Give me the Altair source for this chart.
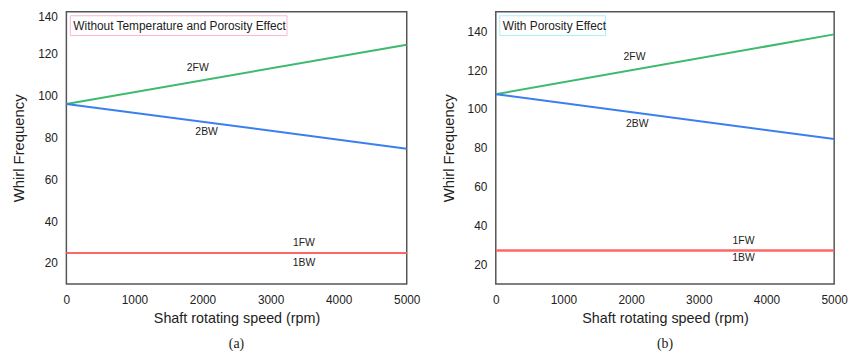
import altair as alt
import pandas as pd

speed = [0, 5000]

# Panel (a): without temperature and porosity effect
a_2fw = [96.0, 124.3]
a_2bw = [96.0, 74.6]
a_1fw = [24.8, 24.8]
a_1bw = [24.8, 24.8]
a_label_names = ["2FW", "2BW", "1FW", "1BW"]
a_label_x = [1930, 2060, 3490, 3490]
a_label_y = [113.3, 82.4, 29.4, 20.1]

# Panel (b): with porosity effect
b_2fw = [107.6, 138.4]
b_2bw = [107.6, 84.6]
b_1fw = [27.2, 27.2]
b_1bw = [27.2, 27.2]
b_label_names = ["2FW", "2BW", "1FW", "1BW"]
b_label_x = [2050, 2090, 3660, 3660]
b_label_y = [126.8, 92.4, 31.9, 23.4]

series_names = ["2FW", "2BW", "1FW", "1BW"]
series_colors = ["#3dba6e", "#3a7ff0", "#ff6666", "#ff6666"]

x_ticks = [0, 1000, 2000, 3000, 4000, 5000]
y_ticks = [20, 40, 60, 80, 100, 120, 140]

FONT = "Liberation Sans"


def panel(fw2, bw2, fw1, bw1, lx, ly, lnames, ydomain, note, note_w, note_stroke, caption, w, h):
    rows = []
    for name, vals in zip(series_names, [fw2, bw2, fw1, bw1]):
        for s, v in zip(speed, vals):
            rows.append({"speed": s, "freq": v, "series": name})
    df = pd.DataFrame(rows)
    lab = pd.DataFrame({"speed": lx, "freq": ly, "name": lnames})

    xs = alt.Scale(domain=[0, 5000], nice=False)
    ys = alt.Scale(domain=ydomain, nice=False, zero=False)

    lines = alt.Chart(df).mark_line(strokeWidth=2, clip=True).encode(
        x=alt.X("speed:Q", scale=xs,
                axis=alt.Axis(values=x_ticks, format="d", title="Shaft rotating speed (rpm)",
                              labelPadding=11, titlePadding=6, labelFlush=False,
                              titleFontSize=14.5)),
        y=alt.Y("freq:Q", scale=ys,
                axis=alt.Axis(values=y_ticks, format="d", title="Whirl Frequency",
                              labelPadding=9, titlePadding=11, labelFlush=True,
                              titleFontSize=15)),
        color=alt.Color("series:N", scale=alt.Scale(domain=series_names, range=series_colors), legend=None),
        detail="series:N",
    )
    labels = alt.Chart(lab).mark_text(font=FONT, fontSize=10.5, color="#222").encode(
        x=alt.X("speed:Q", scale=xs), y=alt.Y("freq:Q", scale=ys), text="name:N"
    )
    box = alt.Chart(pd.DataFrame({"t": [note]})).mark_rect(
        fill="white", stroke=note_stroke, strokeWidth=1
    ).encode(x=alt.value(4), x2=alt.value(4 + note_w), y=alt.value(4), y2=alt.value(24))
    note_txt = alt.Chart(pd.DataFrame({"t": [note]})).mark_text(
        font=FONT, fontSize=12, color="#222", align="left", baseline="middle"
    ).encode(x=alt.value(7), y=alt.value(14.5), text="t:N")

    return alt.layer(lines, labels, box, note_txt).properties(
        width=w, height=h,
        title=alt.TitleParams(caption, orient="bottom", anchor="middle", font="Liberation Serif",
                              fontSize=14, fontWeight="normal", color="#222", offset=12),
    )


left = panel(a_2fw, a_2bw, a_1fw, a_1bw, a_label_x, a_label_y, a_label_names, [10, 140],
             "Without Temperature and Porosity Effect", 219, "#ffb3d9", "(a)", 344, 275)
right = panel(b_2fw, b_2bw, b_1fw, b_1bw, b_label_x, b_label_y, b_label_names, [10, 150],
              "With Porosity Effect", 107, "#a8f0f8", "(b)", 342, 275)

chart = alt.hconcat(left, right, spacing=19).properties(
    padding={"left": 3, "top": 0, "right": 0, "bottom": 0}
).configure_view(stroke="#555", strokeWidth=1.5).configure_axis(
    domain=False, ticks=False, grid=False,
    labelFont=FONT, labelFontSize=12, labelColor="#222",
    titleFont=FONT, titleFontWeight="normal", titleColor="#222",
)

chart.save("out.html", embed_options={"renderer": "svg", "actions": False})
